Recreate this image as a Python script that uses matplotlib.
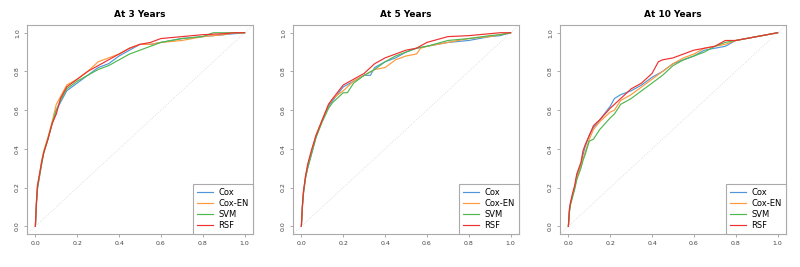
import numpy as np
import matplotlib.pyplot as plt

titles = ['At 3 Years', 'At 5 Years', 'At 10 Years']
models = ['Cox', 'Cox-EN', 'SVM', 'RSF']
colors = ['#4f96d8', '#ff9a3c', '#4fb84f', '#ee3030']

# --- At 3 years: false positive rate / true positive rate per model
fpr3_cox = [0, 0.005, 0.01, 0.02, 0.03, 0.04, 0.06, 0.08, 0.10, 0.12, 0.15, 0.20, 0.25, 0.30, 0.35, 0.40, 0.45, 0.50, 0.55, 0.60, 0.70, 0.80, 0.90, 0.95, 1.0]
tpr3_cox = [0, 0.12, 0.20, 0.26, 0.33, 0.38, 0.45, 0.53, 0.60, 0.64, 0.70, 0.74, 0.78, 0.82, 0.84, 0.88, 0.91, 0.94, 0.94, 0.95, 0.97, 0.98, 0.99, 0.995, 1.0]
fpr3_en = [0, 0.005, 0.01, 0.02, 0.03, 0.04, 0.06, 0.08, 0.10, 0.12, 0.15, 0.20, 0.25, 0.30, 0.35, 0.40, 0.45, 0.50, 0.55, 0.60, 0.70, 0.80, 0.90, 0.95, 1.0]
tpr3_en = [0, 0.13, 0.21, 0.27, 0.34, 0.39, 0.46, 0.54, 0.63, 0.67, 0.73, 0.76, 0.80, 0.85, 0.87, 0.89, 0.92, 0.94, 0.94, 0.95, 0.96, 0.98, 0.99, 1.0, 1.0]
fpr3_svm = [0, 0.005, 0.01, 0.02, 0.03, 0.04, 0.06, 0.08, 0.10, 0.12, 0.15, 0.20, 0.25, 0.30, 0.35, 0.40, 0.45, 0.50, 0.55, 0.60, 0.70, 0.80, 0.85, 0.95, 1.0]
tpr3_svm = [0, 0.11, 0.19, 0.26, 0.32, 0.38, 0.45, 0.53, 0.60, 0.65, 0.71, 0.75, 0.78, 0.81, 0.83, 0.86, 0.89, 0.91, 0.93, 0.95, 0.97, 0.98, 1.0, 1.0, 1.0]
fpr3_rsf = [0, 0.005, 0.01, 0.02, 0.03, 0.04, 0.06, 0.08, 0.10, 0.12, 0.15, 0.20, 0.25, 0.30, 0.35, 0.40, 0.45, 0.50, 0.55, 0.60, 0.70, 0.80, 0.90, 0.95, 1.0]
tpr3_rsf = [0, 0.12, 0.21, 0.27, 0.33, 0.38, 0.45, 0.53, 0.58, 0.66, 0.72, 0.76, 0.80, 0.83, 0.86, 0.89, 0.92, 0.94, 0.95, 0.97, 0.98, 0.99, 0.995, 1.0, 1.0]

# --- At 5 years
fpr5_cox = [0, 0.005, 0.01, 0.02, 0.03, 0.05, 0.07, 0.10, 0.13, 0.15, 0.20, 0.25, 0.30, 0.33, 0.35, 0.40, 0.45, 0.50, 0.55, 0.60, 0.70, 0.80, 0.90, 0.95, 1.0]
tpr5_cox = [0, 0.10, 0.17, 0.25, 0.30, 0.38, 0.46, 0.55, 0.62, 0.65, 0.72, 0.75, 0.78, 0.78, 0.82, 0.85, 0.87, 0.90, 0.92, 0.93, 0.95, 0.96, 0.98, 0.985, 1.0]
fpr5_en = [0, 0.005, 0.01, 0.02, 0.03, 0.05, 0.07, 0.10, 0.13, 0.15, 0.20, 0.25, 0.30, 0.35, 0.40, 0.45, 0.50, 0.55, 0.57, 0.60, 0.70, 0.80, 0.90, 0.95, 1.0]
tpr5_en = [0, 0.11, 0.18, 0.26, 0.31, 0.39, 0.47, 0.55, 0.63, 0.66, 0.70, 0.75, 0.78, 0.81, 0.82, 0.86, 0.88, 0.89, 0.92, 0.93, 0.95, 0.97, 0.98, 0.99, 1.0]
fpr5_svm = [0, 0.005, 0.01, 0.02, 0.03, 0.05, 0.07, 0.10, 0.13, 0.15, 0.20, 0.22, 0.25, 0.30, 0.35, 0.40, 0.45, 0.50, 0.55, 0.60, 0.70, 0.80, 0.90, 0.95, 1.0]
tpr5_svm = [0, 0.10, 0.17, 0.25, 0.30, 0.38, 0.46, 0.54, 0.61, 0.64, 0.69, 0.69, 0.74, 0.78, 0.81, 0.85, 0.88, 0.90, 0.92, 0.93, 0.96, 0.97, 0.985, 0.99, 1.0]
fpr5_rsf = [0, 0.005, 0.01, 0.02, 0.03, 0.05, 0.07, 0.10, 0.13, 0.15, 0.20, 0.25, 0.30, 0.35, 0.40, 0.45, 0.50, 0.55, 0.60, 0.70, 0.80, 0.90, 0.95, 1.0]
tpr5_rsf = [0, 0.11, 0.18, 0.26, 0.32, 0.40, 0.47, 0.55, 0.63, 0.66, 0.73, 0.76, 0.79, 0.84, 0.87, 0.89, 0.91, 0.92, 0.95, 0.98, 0.985, 0.995, 1.0, 1.0]

# --- At 10 years
fpr10_cox = [0, 0.005, 0.01, 0.02, 0.03, 0.04, 0.06, 0.07, 0.08, 0.10, 0.12, 0.15, 0.20, 0.22, 0.25, 0.30, 0.35, 0.40, 0.45, 0.50, 0.55, 0.60, 0.65, 0.70, 0.75, 0.80, 0.90, 1.0]
tpr10_cox = [0, 0.08, 0.12, 0.16, 0.20, 0.26, 0.32, 0.37, 0.41, 0.47, 0.51, 0.55, 0.62, 0.66, 0.68, 0.70, 0.73, 0.77, 0.80, 0.84, 0.86, 0.88, 0.91, 0.92, 0.93, 0.96, 0.98, 1.0]
fpr10_en = [0, 0.005, 0.01, 0.02, 0.03, 0.04, 0.06, 0.07, 0.08, 0.10, 0.12, 0.15, 0.20, 0.22, 0.25, 0.30, 0.35, 0.40, 0.45, 0.50, 0.55, 0.60, 0.65, 0.70, 0.75, 0.80, 0.90, 1.0]
tpr10_en = [0, 0.08, 0.12, 0.16, 0.20, 0.25, 0.31, 0.35, 0.38, 0.45, 0.50, 0.54, 0.59, 0.60, 0.65, 0.68, 0.72, 0.76, 0.80, 0.84, 0.87, 0.89, 0.92, 0.93, 0.94, 0.96, 0.98, 1.0]
fpr10_svm = [0, 0.005, 0.01, 0.02, 0.03, 0.04, 0.06, 0.07, 0.08, 0.10, 0.12, 0.15, 0.20, 0.22, 0.25, 0.30, 0.35, 0.40, 0.45, 0.50, 0.55, 0.60, 0.65, 0.70, 0.75, 0.80, 0.90, 1.0]
tpr10_svm = [0, 0.07, 0.11, 0.15, 0.19, 0.24, 0.30, 0.34, 0.37, 0.44, 0.45, 0.50, 0.56, 0.58, 0.63, 0.66, 0.70, 0.74, 0.78, 0.83, 0.86, 0.88, 0.90, 0.93, 0.95, 0.96, 0.98, 1.0]
fpr10_rsf = [0, 0.005, 0.01, 0.02, 0.03, 0.04, 0.06, 0.07, 0.08, 0.10, 0.12, 0.15, 0.20, 0.22, 0.25, 0.30, 0.35, 0.40, 0.43, 0.45, 0.50, 0.55, 0.60, 0.65, 0.70, 0.75, 0.80, 0.90, 1.0]
tpr10_rsf = [0, 0.09, 0.12, 0.17, 0.21, 0.27, 0.33, 0.39, 0.42, 0.47, 0.52, 0.55, 0.61, 0.63, 0.66, 0.71, 0.74, 0.79, 0.85, 0.86, 0.87, 0.89, 0.91, 0.92, 0.93, 0.96, 0.96, 0.98, 1.0]

panels = [
    [(fpr3_cox, tpr3_cox), (fpr3_en, tpr3_en), (fpr3_svm, tpr3_svm), (fpr3_rsf, tpr3_rsf)],
    [(fpr5_cox, tpr5_cox), (fpr5_en, tpr5_en), (fpr5_svm, tpr5_svm), (fpr5_rsf, tpr5_rsf)],
    [(fpr10_cox, tpr10_cox), (fpr10_en, tpr10_en), (fpr10_svm, tpr10_svm), (fpr10_rsf, tpr10_rsf)],
]

fig = plt.figure(figsize=(8, 2.67), dpi=100)
lefts = [27, 293, 560]
ticks = [0, 0.2, 0.4, 0.6, 0.8, 1.0]

for i in range(3):
    ax = fig.add_axes([lefts[i] / 800, 1 - 234 / 267, 226 / 800, 209 / 267])
    ax.axline((0, 0), (1, 1), color='#d8d8d8', lw=0.6, ls=':')
    for j in range(4):
        x, y = panels[i][j]
        ax.plot(x, y, color=colors[j], lw=0.85, label=models[j])
    ax.set_xlim(-0.04, 1.04)
    ax.set_ylim(-0.04, 1.04)
    ax.set_xticks(ticks)
    ax.set_yticks(ticks)
    ax.set_xticklabels(['%.1f' % t for t in ticks])
    ax.set_yticklabels(['%.1f' % t for t in ticks], rotation=90, va='center')
    ax.tick_params(labelsize=4.5, length=2, width=0.5, color='#888888', labelcolor='#444444', pad=3)
    for s in ax.spines.values():
        s.set_color('#aaaaaa')
        s.set_linewidth(0.8)
    ax.set_title(titles[i], fontsize=6.5, fontweight='bold', pad=6)
    leg = ax.legend(loc='lower right', fontsize=6, fancybox=False, framealpha=1,
                    borderaxespad=0, handlelength=2.0, handletextpad=0.6,
                    labelspacing=0.22, borderpad=0.5, edgecolor='#aaaaaa')
    leg.get_frame().set_linewidth(0.8)

plt.savefig('out.png', dpi=100)
